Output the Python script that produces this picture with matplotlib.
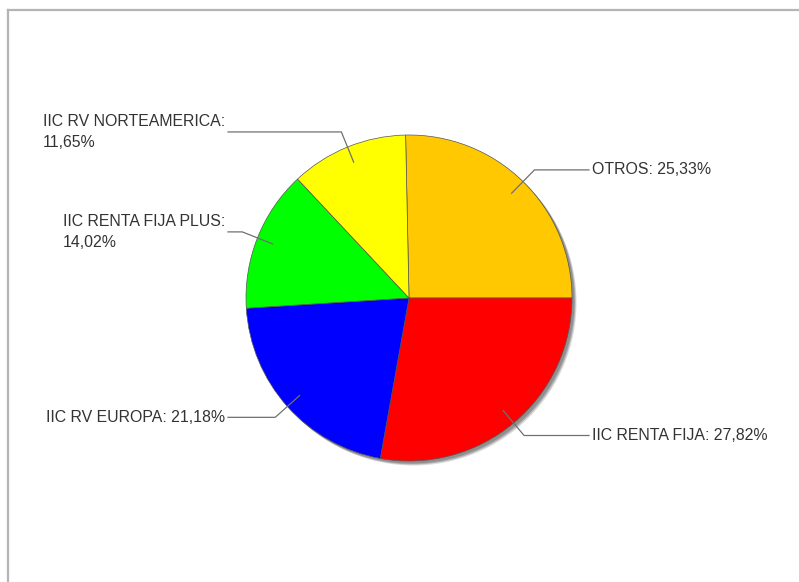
import numpy as np
import matplotlib
matplotlib.use("Agg")
import matplotlib.pyplot as plt
from matplotlib.patches import Circle
from matplotlib.lines import Line2D

plt.rcParams['font.family'] = ['Liberation Sans', 'DejaVu Sans']

# Data
labels = ["OTROS", "IIC RENTA FIJA", "IIC RV EUROPA", "IIC RENTA FIJA PLUS", "IIC RV NORTEAMERICA"]
values = [25.33, 27.82, 21.18, 14.02, 11.65]
colors = ["#FFC800", "#FF0000", "#0000FF", "#00FF00", "#FFFF00"]
two_lines = [False, False, False, True, True]

W, H = 799, 582
fig = plt.figure(figsize=(W / 100, H / 100), dpi=100)
ax = fig.add_axes([0, 0, 1, 1])

cx, cy, r = 409, H - 298, 163
start = 90 + 1.19

# soft shadow to the bottom right
for off, a in [(4.5, 0.25), (3.5, 0.4), (2.5, 0.5)]:
    ax.add_patch(Circle((cx + off, cy - off), r, color="#707070", alpha=a, lw=0, zorder=1))

wedges, _ = ax.pie(values, colors=colors, startangle=start, counterclock=False,
                   center=(cx, cy), radius=r, frame=True,
                   wedgeprops=dict(edgecolor="#555555", linewidth=0.5, zorder=2))
ax.set_xlim(0, W)
ax.set_ylim(0, H)
ax.set_aspect('equal')
ax.axis('off')

left_x, right_x = 228, 589
for w, lab, v, tl in zip(wedges, labels, values, two_lines):
    mid = np.deg2rad((w.theta1 + w.theta2) / 2)
    x0, y0 = cx + 0.9 * r * np.cos(mid), cy + 0.9 * r * np.sin(mid)
    x1, y1 = cx + 1.1 * r * np.cos(mid), cy + 1.1 * r * np.sin(mid)
    if np.cos(mid) >= 0:
        x2, ha, tx = right_x, 'left', right_x + 3
    else:
        x2, ha, tx = left_x, 'right', left_x - 3
    ax.plot([x0, x1, x2], [y0, y1, y1], color="#707070", lw=0.9, zorder=3)
    txt = f"{lab}:" + ("\n" if tl else " ") + f"{v:.2f}".replace('.', ',') + "%"
    ax.text(tx, y1, txt, ha=ha, va='center', multialignment='left',
            fontsize=11.4, color="#333333", linespacing=1.45, zorder=4)

# border on top and left
fig.add_artist(Line2D([8 / W, 8 / W], [0, 1 - 10 / H], color="#b4b4b4", lw=1.6))
fig.add_artist(Line2D([8 / W, 1], [1 - 10 / H, 1 - 10 / H], color="#b4b4b4", lw=1.6))

fig.savefig("out.png", dpi=100, facecolor="white")
